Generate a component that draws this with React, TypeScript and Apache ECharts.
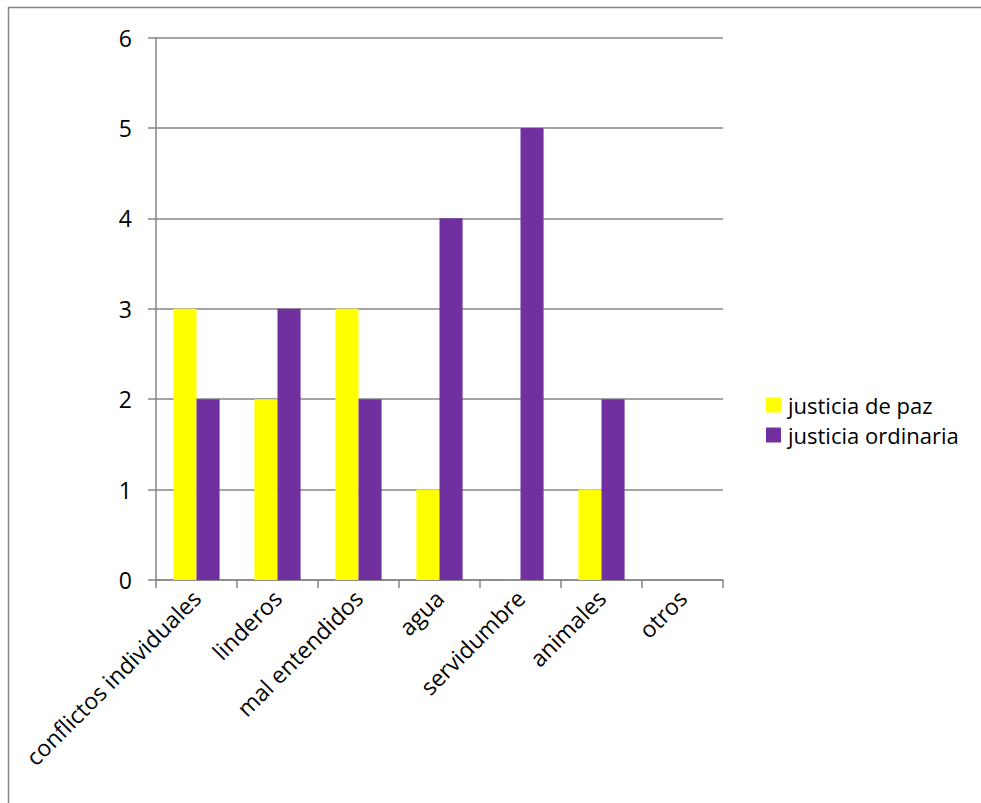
import React, { useEffect, useRef } from "react";
import * as echarts from "echarts";

const categories = [
  "conflictos individuales",
  "linderos",
  "mal entendidos",
  "agua",
  "servidumbre",
  "animales",
  "otros",
];
const seriesNames = ["justicia de paz", "justicia ordinaria"];
const justiciaDePaz = [3, 2, 3, 1, 0, 1, 0];
const justiciaOrdinaria = [2, 3, 2, 4, 5, 2, 0];
const yTicks = [0, 1, 2, 3, 4, 5, 6];

const FONT = "'Open Sans', 'Noto Sans', sans-serif";
const FS = 23;
const LEGEND_FS = 22;
const GRAY = "#868686";

export default function App() {
  const ref = useRef<HTMLDivElement>(null);
  useEffect(() => {
    if (!ref.current) return;
    const chart = echarts.init(ref.current, undefined, { renderer: "svg" });
    chart.setOption({
      animation: false,
      backgroundColor: "#ffffff",
      textStyle: { fontFamily: FONT },
      graphic: [
        {
          type: "rect",
          shape: { x: 8.5, y: 7.5, width: 1200, height: 1200 },
          style: { fill: "none", stroke: GRAY, lineWidth: 1.5 },
          silent: true,
        },
      ],
      grid: { left: 156, top: 37.5, width: 567, height: 542.5, containLabel: false },
      legend: {
        orient: "vertical",
        left: 766,
        top: 390,
        padding: 0,
        itemWidth: 15,
        itemHeight: 15,
        itemGap: 0,
        icon: "rect",
        data: seriesNames,
        textStyle: { fontSize: LEGEND_FS, color: "#000", fontFamily: FONT, lineHeight: 30, padding: [0, 0, 0, 2] },
      },
      xAxis: {
        type: "category",
        data: categories,
        axisLine: { lineStyle: { color: GRAY, width: 1.5 } },
        axisTick: { show: true, length: 8, alignWithLabel: false, lineStyle: { color: GRAY, width: 1.5 } },
        axisLabel: { rotate: 45, fontSize: FS, color: "#000", margin: 14, interval: 0, fontFamily: FONT },
      },
      yAxis: {
        type: "value",
        min: yTicks[0],
        max: yTicks[yTicks.length - 1],
        interval: 1,
        axisLine: { show: true, lineStyle: { color: GRAY, width: 1.5 } },
        axisTick: { show: true, length: 8, lineStyle: { color: GRAY, width: 1.5 } },
        splitLine: { show: true, lineStyle: { color: GRAY, width: 1.5 } },
        axisLabel: { fontSize: FS, color: "#000", margin: 24, fontFamily: FONT },
      },
      series: [
        {
          name: seriesNames[0],
          type: "bar",
          data: justiciaDePaz,
          itemStyle: { color: "#FFFF00" },
          barGap: "0%",
          barCategoryGap: "43%",
        },
        {
          name: seriesNames[1],
          type: "bar",
          data: justiciaOrdinaria,
          itemStyle: { color: "#7030A0" },
          barGap: "0%",
          barCategoryGap: "43%",
        },
      ],
    });
    return () => chart.dispose();
  }, []);
  return (
    <div
      ref={ref}
      style={{ position: "fixed", left: 0, top: 0, width: 981, height: 803 }}
    />
  );
}
